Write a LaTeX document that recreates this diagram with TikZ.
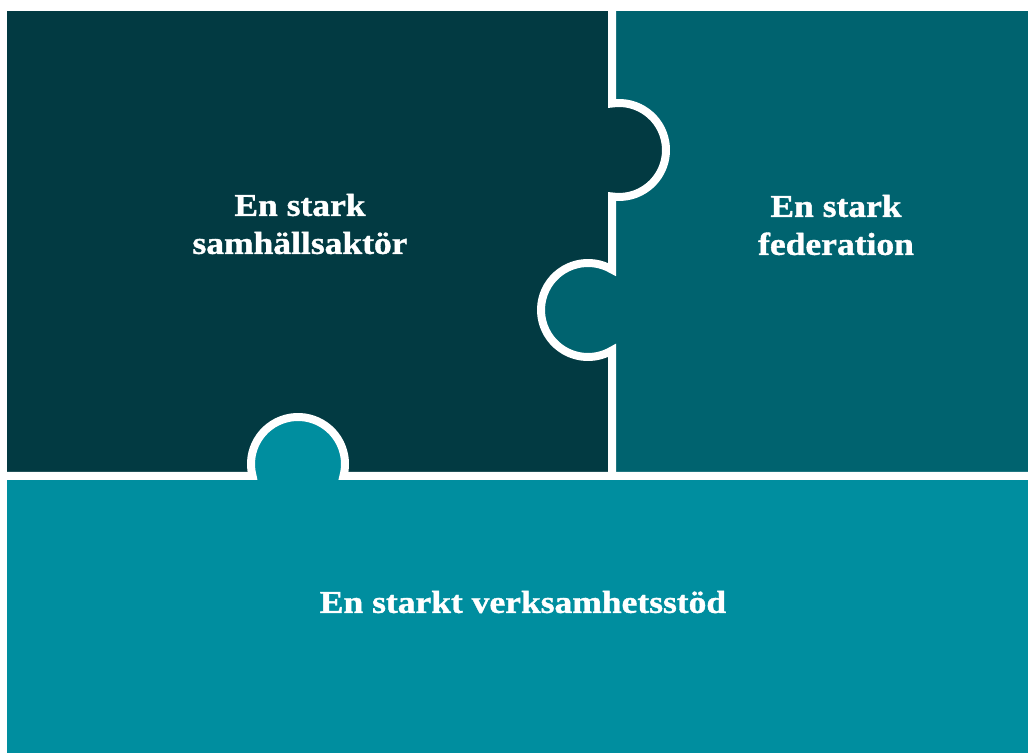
\documentclass[tikz,border=0pt]{standalone}
\usepackage{fontspec}
\newfontfamily\pf[FakeStretch=1.12, BoldFeatures={FakeBold=1.2}]{Liberation Serif}
\definecolor{darkp}{HTML}{023A42}
\definecolor{midp}{HTML}{00636F}
\definecolor{lightp}{HTML}{008E9F}
\tikzset{
  lbl/.style={text=white, font=\pf\bfseries\fontsize{31.7}{38}\selectfont, align=center, inner sep=0pt},
  sep/.style={draw=white, line width=8pt, line join=miter}
}
\begin{document}
\begin{tikzpicture}[x=1pt,y=1pt]
\useasboundingbox (0,0) rectangle (1028,753);
\fill[white] (0,0) rectangle (1028,753);
% base pieces
\fill[darkp] (7,277) rectangle (612,742);
\fill[midp] (612,277) rectangle (1028,742);
\fill[lightp] (7,0) rectangle (1028,277);
% knobs
\fill[darkp] (619,603) circle[radius=47];
\fill[midp] (588,443) circle[radius=47];
\fill[lightp] (298,289) circle[radius=47];
% separators
\draw[sep] (612,746) -- (612,649.48)
  arc[start angle=98.56, end angle=-98.56, radius=47]
  -- (612,483.41)
  arc[start angle=59.29, end angle=300.71, radius=47]
  -- (612,277);
\draw[sep] (3,277) -- (252.56,277)
  arc[start angle=194.81, end angle=-14.81, radius=47]
  -- (1032,277);
% labels
\node[lbl] (a) at (300,529) {En stark\\samhällsaktör};
\node[lbl] (b) at (836,528) {En stark\\federation};
\node[lbl] (c) at (523,151) {En starkt verksamhetsstöd};
\end{tikzpicture}
\end{document}
